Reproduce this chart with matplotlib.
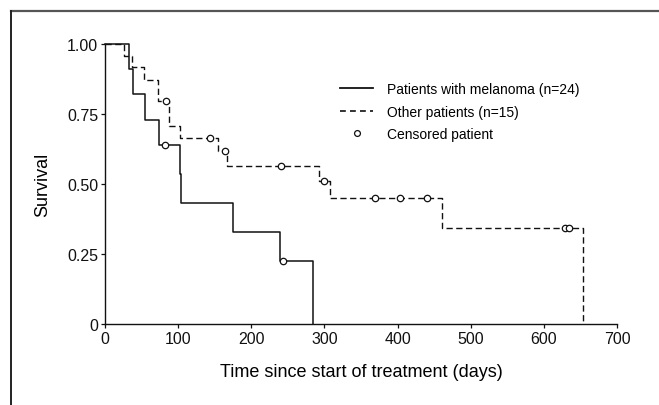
"""Kaplan-Meier style survival curves: melanoma patients vs other patients."""
import matplotlib
matplotlib.use("Agg")
import matplotlib.pyplot as plt
from matplotlib.lines import Line2D

plt.rcParams["font.family"] = ["Liberation Sans", "DejaVu Sans"]

# --- data ---
mel_t = [0, 33, 38, 55, 74, 102, 104, 175, 239, 285]
mel_s = [1.0, 0.91, 0.82, 0.73, 0.64, 0.535, 0.432, 0.328, 0.224, 0.0]
mel_cens_t = [82, 243]
mel_cens_s = [0.64, 0.224]

oth_t = [0, 26, 37, 54, 73, 88, 102, 155, 167, 293, 308, 461, 654]
oth_s = [1.0, 0.958, 0.917, 0.87, 0.795, 0.708, 0.664, 0.617, 0.565, 0.512, 0.45, 0.343, 0.0]
oth_cens_t = [83, 144, 164, 241, 300, 369, 403, 440, 629, 634]
oth_cens_s = [0.795, 0.664, 0.617, 0.565, 0.512, 0.45, 0.45, 0.45, 0.343, 0.343]

xticks = [0, 100, 200, 300, 400, 500, 600, 700]
yticks = [0, 0.25, 0.5, 0.75, 1.0]
ytick_labels = ["0", "0.25", "0.50", "0.75", "1.00"]

W, H = 659, 406
fig = plt.figure(figsize=(W / 100, H / 100), dpi=100)
ax = fig.add_axes([105 / W, 1 - 325 / H, (617 - 105) / W, (325 - 45) / H])

ink = "#111111"
ax.step(mel_t, mel_s, where="post", color=ink, lw=1.1, clip_on=False)
ax.step(oth_t, oth_s, where="post", color=ink, lw=1.0, dashes=(4.5, 2.5), clip_on=False)
mk = dict(ls="none", marker="o", ms=4.6, mfc="white", mec=ink, mew=0.9, clip_on=False, zorder=3)
ax.plot(mel_cens_t, mel_cens_s, **mk)
ax.plot(oth_cens_t, oth_cens_s, **mk)

ax.set_xlim(0, 700)
ax.set_ylim(0, 1)
ax.set_xticks(xticks)
ax.set_yticks(yticks)
ax.set_yticklabels(ytick_labels)
ax.tick_params(direction="out", length=3, width=0.9, labelsize=11.5, pad=2, colors=ink)
for side in ["top", "right"]:
    ax.spines[side].set_visible(False)
for side in ["left", "bottom"]:
    ax.spines[side].set_linewidth(1.0)
    ax.spines[side].set_color(ink)
ax.set_xlabel("Time since start of treatment (days)", fontsize=13, labelpad=12)
ax.set_ylabel("Survival", fontsize=13, labelpad=11)

handles = [
    Line2D([], [], color=ink, lw=1.3),
    Line2D([], [], color=ink, lw=1.2, dashes=(3.5, 2.5)),
    Line2D([], [], ls="none", marker="o", ms=4.2, mfc="white", mec=ink, mew=0.9),
]
labels = ["Patients with melanoma (n=24)", "Other patients (n=15)", "Censored patient"]
fig.legend(handles, labels, loc="upper left", bbox_to_anchor=(340 / W, 1 - 83 / H),
           frameon=False, fontsize=10, handlelength=2.4, handletextpad=1.0,
           labelspacing=0.62, borderpad=0, borderaxespad=0)

# outer frame (top and left edges only)
fx, fy = 11 / W, 1 - 12 / H
fig.add_artist(Line2D([fx, 1], [fy, fy], transform=fig.transFigure, color="#555555", lw=1.6))
fig.add_artist(Line2D([fx, fx], [fy, 0], transform=fig.transFigure, color="#222222", lw=1.4))

fig.savefig("out.png", dpi=100)
